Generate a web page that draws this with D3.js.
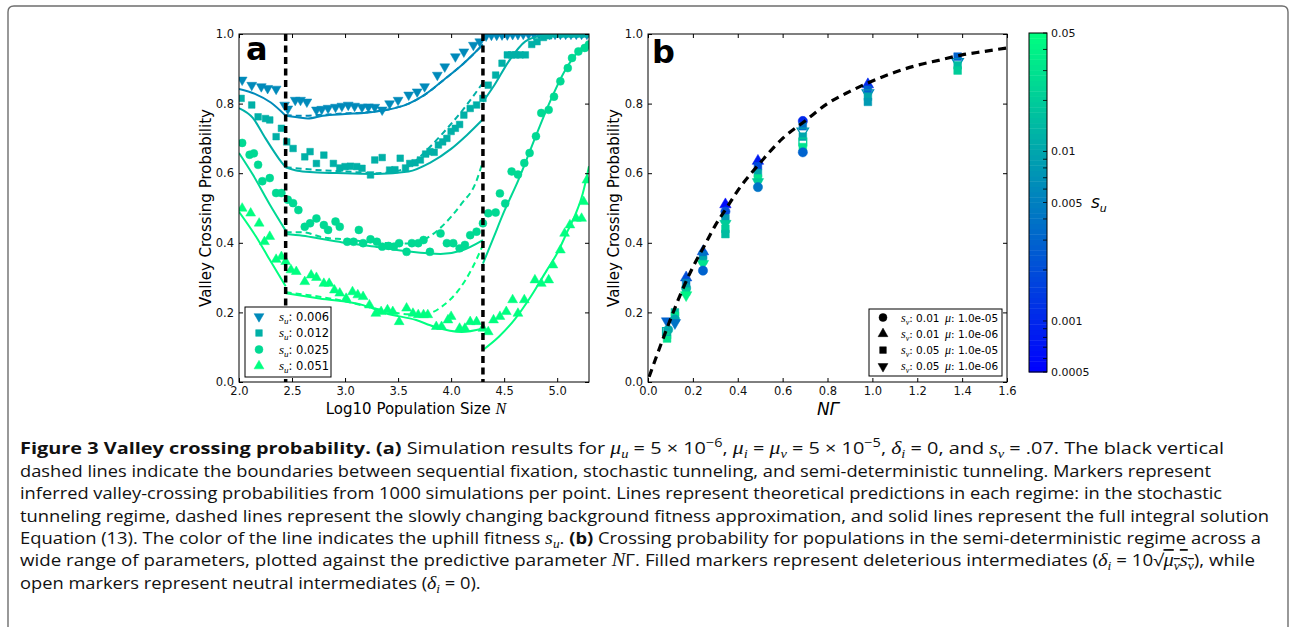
<!DOCTYPE html>
<html>
<head>
<meta charset="utf-8">
<script src="https://cdn.jsdelivr.net/npm/d3@7"></script>
<style>
  body { margin: 0; background: #fff; }
  text { font-family: "DejaVu Sans", sans-serif; }
</style>
</head>
<body>
<svg id="fig" width="1294" height="627"></svg>
<script>
// ---------- panel a data (log10 N, crossing probability) ----------
const suA = [0.006, 0.012, 0.025, 0.051];
const shapeA = [3, 2, 0, 1]; // tri-down, square, circle, tri-up
const regimeBounds = [2.44, 4.30];

const pts006 = [[2.03,0.868],[2.12,0.853],[2.21,0.849],[2.27,0.844],[2.35,0.842],[2.43,0.796],[2.46,0.785],[2.53,0.81],[2.58,0.81],[2.64,0.805],[2.73,0.782],[2.78,0.784],[2.84,0.787],[2.91,0.79],[2.97,0.793],[3.03,0.796],[3.09,0.793],[3.16,0.79],[3.22,0.791],[3.28,0.79],[3.35,0.782],[3.42,0.80],[3.50,0.81],[3.60,0.825],[3.68,0.834],[3.75,0.849],[3.87,0.882],[3.94,0.906],[4.04,0.935],[4.12,0.949],[4.21,0.968],[4.27,0.978],[4.33,0.995],[4.38,0.997],[4.43,0.997],[4.48,0.998],[4.53,0.998],[4.58,0.999],[4.63,0.999],[4.68,1.0],[4.73,1.0],[4.78,1.0],[4.83,1.0],[4.88,1.0],[4.93,1.0],[4.98,1.0],[5.03,1.0],[5.08,1.0],[5.13,1.0],[5.18,1.0],[5.23,1.0],[5.28,1.0]];
const pts012 = [[2.02,0.815],[2.12,0.796],[2.18,0.762],[2.25,0.757],[2.29,0.753],[2.35,0.705],[2.40,0.729],[2.45,0.69],[2.51,0.671],[2.62,0.647],[2.67,0.662],[2.73,0.628],[2.80,0.652],[2.89,0.628],[2.95,0.615],[3.0,0.619],[3.05,0.62],[3.11,0.619],[3.16,0.614],[3.24,0.595],[3.28,0.638],[3.35,0.645],[3.42,0.609],[3.47,0.61],[3.52,0.643],[3.57,0.615],[3.61,0.628],[3.66,0.63],[3.71,0.638],[3.76,0.655],[3.80,0.662],[3.84,0.66],[3.88,0.681],[3.92,0.69],[3.96,0.70],[4.0,0.72],[4.04,0.729],[4.08,0.74],[4.12,0.767],[4.18,0.786],[4.24,0.796],[4.30,0.815],[4.35,0.853],[4.42,0.882],[4.48,0.916],[4.53,0.94],[4.57,0.94],[4.61,0.94],[4.65,0.94],[4.70,0.94],[4.76,0.97],[4.81,0.978],[4.87,0.99],[4.92,0.995],[4.97,1.0],[5.02,1.0],[5.07,1.0],[5.12,1.0],[5.17,1.0],[5.22,1.0],[5.27,1.0]];
const pts025 = [[2.03,0.687],[2.10,0.653],[2.14,0.657],[2.18,0.624],[2.22,0.577],[2.29,0.586],[2.35,0.543],[2.40,0.543],[2.46,0.524],[2.51,0.514],[2.56,0.494],[2.62,0.446],[2.67,0.456],[2.73,0.47],[2.80,0.451],[2.84,0.437],[2.91,0.461],[2.95,0.446],[3.02,0.403],[3.08,0.403],[3.13,0.437],[3.17,0.399],[3.24,0.41],[3.30,0.403],[3.35,0.389],[3.41,0.391],[3.46,0.389],[3.51,0.399],[3.58,0.374],[3.63,0.399],[3.69,0.399],[3.74,0.408],[3.80,0.374],[3.90,0.427],[3.96,0.399],[4.02,0.399],[4.08,0.384],[4.13,0.394],[4.18,0.422],[4.24,0.432],[4.30,0.456],[4.35,0.485],[4.42,0.487],[4.46,0.542],[4.51,0.513],[4.57,0.605],[4.63,0.596],[4.69,0.629],[4.74,0.658],[4.80,0.706],[4.85,0.773],[4.92,0.782],[4.97,0.82],[5.03,0.864],[5.10,0.902],[5.14,0.931],[5.20,0.95],[5.26,0.96],[5.30,0.97]];
const pts051 = [[2.03,0.499],[2.11,0.485],[2.19,0.456],[2.24,0.403],[2.29,0.418],[2.35,0.352],[2.40,0.36],[2.44,0.346],[2.49,0.322],[2.54,0.317],[2.62,0.288],[2.68,0.307],[2.73,0.30],[2.80,0.283],[2.85,0.283],[2.90,0.264],[2.95,0.255],[3.01,0.24],[3.07,0.259],[3.12,0.25],[3.17,0.245],[3.23,0.221],[3.29,0.197],[3.34,0.202],[3.40,0.207],[3.45,0.202],[3.51,0.173],[3.58,0.212],[3.64,0.197],[3.69,0.193],[3.74,0.193],[3.78,0.193],[3.86,0.159],[3.91,0.159],[3.97,0.178],[4.0,0.188],[4.08,0.154],[4.13,0.154],[4.18,0.173],[4.24,0.173],[4.30,0.154],[4.35,0.144],[4.40,0.178],[4.46,0.188],[4.52,0.202],[4.58,0.236],[4.63,0.197],[4.69,0.236],[4.79,0.293],[4.85,0.283],[4.92,0.293],[4.96,0.336],[5.03,0.379],[5.07,0.427],[5.12,0.451],[5.18,0.47],[5.23,0.47],[5.25,0.518],[5.28,0.58]];
const pointsA = [pts006, pts012, pts025, pts051];

// sequential-fixation regime (solid)
const seqA = [
  [[2.0,0.842],[2.15,0.828],[2.3,0.803],[2.44,0.765]],
  [[2.0,0.787],[2.13,0.759],[2.25,0.70],[2.38,0.64],[2.44,0.617]],
  [[2.0,0.658],[2.13,0.596],[2.29,0.51],[2.44,0.435]],
  [[2.0,0.489],[2.16,0.418],[2.29,0.351],[2.44,0.275]]
];
// stochastic tunneling, full integral (solid)
const intA = [
  [[2.44,0.765],[2.55,0.761],[2.65,0.757],[2.79,0.765],[3.0,0.77],[3.2,0.774],[3.4,0.782],[3.6,0.80],[3.75,0.825],[3.93,0.868],[4.12,0.916],[4.3,0.97]],
  [[2.44,0.617],[2.55,0.607],[2.7,0.603],[3.0,0.60],[3.3,0.598],[3.6,0.605],[3.8,0.63],[4.0,0.67],[4.15,0.71],[4.3,0.755]],
  [[2.44,0.425],[2.6,0.42],[2.8,0.41],[3.0,0.40],[3.3,0.388],[3.6,0.375],[3.9,0.368],[4.1,0.378],[4.3,0.408]],
  [[2.44,0.255],[2.76,0.24],[3.17,0.221],[3.39,0.197],[3.67,0.178],[3.84,0.159],[4.1,0.144],[4.3,0.154]]
];
// stochastic tunneling, slowly changing background approximation (dashed)
const apxA = [
  [[2.44,0.767],[2.6,0.765],[2.8,0.768],[3.0,0.772],[3.2,0.775],[3.4,0.783],[3.6,0.80],[3.75,0.825],[3.93,0.868],[4.12,0.916],[4.3,0.97]],
  [[2.44,0.617],[2.7,0.61],[3.0,0.605],[3.3,0.60],[3.5,0.607],[3.6,0.62],[3.75,0.66],[3.91,0.711],[4.1,0.778],[4.3,0.86]],
  [[2.44,0.43],[2.6,0.43],[2.8,0.415],[3.0,0.41],[3.3,0.40],[3.6,0.398],[3.75,0.41],[3.91,0.446],[4.1,0.513],[4.23,0.571],[4.3,0.635]],
  [[2.44,0.258],[2.76,0.245],[3.0,0.232],[3.3,0.21],[3.6,0.195],[3.78,0.197],[3.91,0.216],[4.07,0.264],[4.19,0.322],[4.3,0.394]]
];
// semi-deterministic regime (solid)
const semiA = [
  [[4.3,0.997],[4.5,0.999],[5.3,0.999]],
  [[4.3,0.805],[4.41,0.854],[4.54,0.92],[4.7,0.979],[4.85,0.995],[5.0,0.999],[5.3,0.999]],
  [[4.3,0.34],[4.4,0.415],[4.5,0.49],[4.63,0.577],[4.79,0.70],[4.92,0.797],[5.07,0.893],[5.23,0.96],[5.3,0.975]],
  [[4.3,0.092],[4.45,0.13],[4.6,0.18],[4.75,0.245],[4.9,0.32],[5.0,0.37],[5.1,0.435],[5.17,0.48],[5.24,0.54],[5.3,0.62]]
];
const xTicksA = [2.0, 2.5, 3.0, 3.5, 4.0, 4.5, 5.0];
const yTicks = [0.0, 0.2, 0.4, 0.6, 0.8, 1.0];

// ---------- panel b data (N Gamma, probability, shape, s_u, filled) ----------
const pointsB = [
  [0.085,0.175,3,0.003,1],[0.09,0.15,0,0.01,1],[0.085,0.135,2,0.02,1],[0.085,0.125,2,0.03,1],[0.082,0.145,2,0.012,0],
  [0.12,0.20,2,0.015,1],[0.12,0.19,2,0.03,1],[0.12,0.18,0,0.01,1],[0.12,0.17,3,0.004,1],
  [0.17,0.30,1,0.002,1],[0.17,0.285,2,0.005,1],[0.17,0.27,0,0.01,1],[0.17,0.26,2,0.02,1],[0.17,0.25,3,0.04,1],
  [0.245,0.375,1,0.002,1],[0.245,0.365,2,0.004,1],[0.245,0.35,2,0.01,1],[0.245,0.34,3,0.03,1],[0.245,0.32,0,0.003,1],
  [0.345,0.51,1,0.0006,1],[0.345,0.49,0,0.002,1],[0.345,0.47,2,0.008,1],[0.345,0.455,3,0.02,1],[0.345,0.44,2,0.02,1],[0.345,0.425,2,0.015,1],
  [0.49,0.635,1,0.0008,1],[0.49,0.62,2,0.002,1],[0.49,0.60,2,0.01,1],[0.49,0.585,2,0.03,1],[0.49,0.575,3,0.02,1],[0.49,0.56,0,0.004,1],
  [0.69,0.75,0,0.001,1],[0.69,0.735,2,0.004,1],[0.69,0.72,3,0.008,0],[0.69,0.705,2,0.01,1],[0.69,0.69,2,0.02,0],[0.69,0.675,2,0.03,1],[0.69,0.66,0,0.003,1],
  [0.98,0.855,1,0.001,1],[0.98,0.84,2,0.003,1],[0.98,0.83,3,0.006,0],[0.98,0.82,2,0.01,1],[0.98,0.805,2,0.008,1],
  [1.38,0.935,2,0.003,1],[1.38,0.92,3,0.006,0],[1.38,0.91,2,0.015,1],[1.38,0.895,2,0.02,1]
];
const curveNG = [0.005,0.05,0.1,0.15,0.2,0.25,0.3,0.35,0.4,0.5,0.6,0.7,0.8,0.9,1.0,1.1,1.2,1.3,1.4,1.5,1.6];
const curveP  = [0.015,0.095,0.18,0.26,0.33,0.39,0.45,0.50,0.55,0.63,0.70,0.75,0.80,0.835,0.865,0.89,0.91,0.925,0.94,0.95,0.96];
const xTicksB = [0.0, 0.2, 0.4, 0.6, 0.8, 1.0, 1.2, 1.4, 1.6];
const legendB = [["0.01","1.0e-05"],["0.01","1.0e-06"],["0.05","1.0e-05"],["0.05","1.0e-06"]];
const shapeB = [0, 1, 2, 3];

// colour bar
const cbDomain = [0.0005, 0.05];
const cbLabels = [0.05, 0.01, 0.005, 0.001, 0.0005];

// ---------- set up ----------
const svg = d3.select('#fig');
svg.append('rect').attr('width', 1294).attr('height', 627).attr('fill', '#fff');

// outer frame of the figure page
svg.append('path')
  .attr('d', 'M8,640 V12 Q8,6 14,6 H1282 Q1288,6 1288,12 V640')
  .attr('fill', 'none').attr('stroke', '#6e6e6e').attr('stroke-width', 1.4);

// winter colormap, log normalised
const color = d3.scaleLog().domain(cbDomain).range(['#0000ff', '#00ff80']).clamp(true);

function symbolPaths(scale) {
  return [
    d3.symbol().type(d3.symbolCircle).size(50 * scale)(),
    d3.symbol().type(d3.symbolTriangle).size(42 * scale)(),
    d3.symbol().type(d3.symbolSquare).size(44 * scale)(),
    d3.symbol().type(d3.symbolTriangle).size(42 * scale)()
  ];
}
const symA = symbolPaths(1), symB = symbolPaths(1.35);
function drawMarker(g, sym, x, y, k, col, filled) {
  g.append('path')
    .attr('d', sym[k])
    .attr('transform', `translate(${x},${y})` + (k === 3 ? ' rotate(180)' : ''))
    .attr('fill', filled ? col : 'none')
    .attr('stroke', col)
    .attr('stroke-width', filled ? 0.5 : 1.3);
}

function drawFrame(g, x, y, xt, id) {
  const [x0, x1] = x.range(), [y0, y1] = y.range();
  const fmt = d3.format('.1f');
  g.append('g').attr('transform', `translate(0,${y0})`)
    .call(d3.axisBottom(x).tickValues(xt).tickFormat(fmt).tickSizeInner(-4).tickSizeOuter(0).tickPadding(5));
  g.append('g').attr('transform', `translate(0,${y1})`)
    .call(d3.axisTop(x).tickValues(xt).tickFormat('').tickSizeInner(-4).tickSizeOuter(0));
  g.append('g').attr('transform', `translate(${x0},0)`)
    .call(d3.axisLeft(y).tickValues(yTicks).tickFormat(fmt).tickSizeInner(-4).tickSizeOuter(0).tickPadding(5));
  g.append('g').attr('transform', `translate(${x1},0)`)
    .call(d3.axisRight(y).tickValues(yTicks).tickFormat('').tickSizeInner(-4).tickSizeOuter(0));
  g.selectAll('.domain').remove();
  g.selectAll('.tick text').attr('font-size', 11.5).attr('font-family', 'DejaVu Sans').attr('fill', '#111');
  g.append('rect').attr('x', x0).attr('y', y1).attr('width', x1 - x0).attr('height', y0 - y1)
    .attr('fill', 'none').attr('stroke', '#000').attr('stroke-width', 1);
  svg.append('clipPath').attr('id', id).append('rect')
    .attr('x', x0).attr('y', y1).attr('width', x1 - x0).attr('height', y0 - y1);
}

// ---------- panel a ----------
const xA = d3.scaleLinear().domain([2, 5.3]).range([239, 589]);
const yA = d3.scaleLinear().domain([0, 1]).range([382, 34]);
const gA = svg.append('g');
const plotA = gA.append('g').attr('clip-path', 'url(#clipA)');
const lineA = d3.line().x(d => xA(d[0])).y(d => yA(d[1])).curve(d3.curveMonotoneX);

pointsA.forEach((pts, i) => {
  const c = color(suA[i]);
  pts.forEach(p => drawMarker(plotA, symA, xA(p[0]), yA(p[1]), shapeA[i], c, true));
});
[0, 1, 2, 3].forEach(i => {
  const c = color(suA[i]);
  [seqA[i], intA[i], semiA[i]].forEach(seg => {
    plotA.append('path').attr('d', lineA(seg)).attr('fill', 'none').attr('stroke', c).attr('stroke-width', 2);
  });
  plotA.append('path').attr('d', lineA(apxA[i])).attr('fill', 'none').attr('stroke', c)
    .attr('stroke-width', 2).attr('stroke-dasharray', '6,4');
});
regimeBounds.forEach(b => {
  plotA.append('line').attr('x1', xA(b)).attr('x2', xA(b)).attr('y1', yA(1)).attr('y2', yA(0))
    .attr('stroke', '#000').attr('stroke-width', 3.5).attr('stroke-dasharray', '7,4.5');
});
drawFrame(gA, xA, yA, xTicksA, 'clipA');

gA.append('text').attr('x', 246).attr('y', 60).attr('font-family', 'Liberation Sans')
  .attr('font-weight', 'bold').attr('font-size', 32).text('a');

// legend a
const legA = gA.append('g');
legA.append('rect').attr('x', 245).attr('y', 307).attr('width', 86).attr('height', 70)
  .attr('fill', '#fff').attr('stroke', '#000').attr('stroke-width', 1);
suA.forEach((s, i) => {
  const y = 316.5 + i * 16.5;
  drawMarker(legA, symA, 259, y, shapeA[i], color(s), true);
  const t = legA.append('text').attr('x', 279).attr('y', y + 4).attr('font-size', 11.5);
  t.append('tspan').attr('font-family', 'Liberation Serif').attr('font-style', 'italic').attr('font-size', 13).text('s');
  t.append('tspan').attr('font-family', 'Liberation Serif').attr('font-style', 'italic').attr('font-size', 9).attr('dy', 3).text('u');
  t.append('tspan').attr('dy', -3).text(': ' + d3.format('.3f')(s));
});

// axis labels a
gA.append('text').attr('transform', 'translate(211,208) rotate(-90)').attr('text-anchor', 'middle')
  .attr('font-size', 15).text('Valley Crossing Probability');
const xlabA = gA.append('text').attr('x', 416).attr('y', 414).attr('text-anchor', 'middle').attr('font-size', 15);
xlabA.append('tspan').text('Log10 Population Size ');
xlabA.append('tspan').attr('font-family', 'Liberation Serif').attr('font-style', 'italic').attr('font-size', 16).text('N');

// ---------- panel b ----------
const xB = d3.scaleLinear().domain([0, 1.6]).range([648, 1007]);
const yB = d3.scaleLinear().domain([0, 1]).range([382, 34]);
const gB = svg.append('g');
const plotB = gB.append('g').attr('clip-path', 'url(#clipB)');
pointsB.forEach(p => drawMarker(plotB, symB, xB(p[0]), yB(p[1]), p[2], color(p[3]), p[4] === 1));
const curveB = d3.line().x((d, i) => xB(curveNG[i])).y(d => yB(d)).curve(d3.curveMonotoneX);
plotB.append('path').attr('d', curveB(curveP)).attr('fill', 'none').attr('stroke', '#000')
  .attr('stroke-width', 3.2).attr('stroke-dasharray', '8,5.5');
drawFrame(gB, xB, yB, xTicksB, 'clipB');

gB.append('text').attr('x', 652).attr('y', 63).attr('font-family', 'Liberation Sans')
  .attr('font-weight', 'bold').attr('font-size', 32).text('b');

// legend b
const legB = gB.append('g');
legB.append('rect').attr('x', 869).attr('y', 309).attr('width', 133).attr('height', 67)
  .attr('fill', '#fff').attr('stroke', '#000').attr('stroke-width', 1);
legendB.forEach((l, i) => {
  const y = 317.5 + i * 16.3;
  drawMarker(legB, symA, 883, y, shapeB[i], '#000', true);
  const t = legB.append('text').attr('y', y + 4).attr('font-size', 10.5);
  t.append('tspan').attr('x', 901).attr('font-family', 'Liberation Serif').attr('font-style', 'italic').attr('font-size', 12).text('s');
  t.append('tspan').attr('font-family', 'Liberation Serif').attr('font-style', 'italic').attr('font-size', 8).attr('dy', 3).text('v');
  t.append('tspan').attr('dy', -3).text(': ' + l[0]);
  t.append('tspan').attr('x', 945).attr('font-family', 'Liberation Serif').attr('font-style', 'italic').attr('font-size', 12).text('\u03bc');
  t.append('tspan').text(': ' + l[1]);
});

gB.append('text').attr('transform', 'translate(619,208) rotate(-90)').attr('text-anchor', 'middle')
  .attr('font-size', 15).text('Valley Crossing Probability');
gB.append('text').attr('x', 828).attr('y', 415).attr('text-anchor', 'middle')
  .attr('font-family', 'Liberation Serif').attr('font-style', 'italic').attr('font-size', 17).text('N\u0393');

// ---------- colour bar ----------
const cb = d3.scaleLog().domain(cbDomain).range([372, 33]);
const gC = svg.append('g');
const nBands = 64;
const lo = Math.log10(cbDomain[0]), hi = Math.log10(cbDomain[1]);
d3.range(nBands).forEach(i => {
  const v0 = Math.pow(10, lo + i * (hi - lo) / nBands);
  const v1 = Math.pow(10, lo + (i + 1) * (hi - lo) / nBands);
  const vm = Math.pow(10, lo + (i + 0.5) * (hi - lo) / nBands);
  gC.append('rect').attr('x', 1029).attr('width', 18).attr('y', cb(v1)).attr('height', cb(v0) - cb(v1) + 0.4)
    .attr('fill', color(vm));
});
gC.append('rect').attr('x', 1029).attr('y', 33).attr('width', 18).attr('height', 339)
  .attr('fill', 'none').attr('stroke', '#000').attr('stroke-width', 1);
cb.ticks().forEach(v => {
  gC.append('line').attr('x1', 1047).attr('x2', 1043).attr('y1', cb(v)).attr('y2', cb(v))
    .attr('stroke', '#000').attr('stroke-width', 0.8);
});
cbLabels.forEach(v => {
  gC.append('text').attr('x', 1051).attr('y', cb(v) + 4).attr('font-size', 11).attr('fill', '#111').text(String(v));
});
const cbt = gC.append('text').attr('x', 1091).attr('y', 208).attr('font-family', 'Liberation Serif')
  .attr('font-style', 'italic').attr('font-size', 17);
cbt.append('tspan').text('s');
cbt.append('tspan').attr('font-size', 11).attr('dy', 4).text('u');

// ---------- caption ----------
const capLines = [
  [['b','Figure 3 Valley crossing probability. (a)'],['n',' Simulation results for '],['m','\u03bc'],['sub','u'],['n',' = 5 \u00d7 10'],['sup','\u22126'],['n',', '],['m','\u03bc'],['sub','i'],['n',' = '],['m','\u03bc'],['sub','v'],['n',' = 5 \u00d7 10'],['sup','\u22125'],['n',', '],['m','\u03b4'],['sub','i'],['n',' = 0, and '],['m','s'],['sub','v'],['n',' = .07. The black vertical']],
  [['n','dashed lines indicate the boundaries between sequential fixation, stochastic tunneling, and semi-deterministic tunneling. Markers represent']],
  [['n','inferred valley-crossing probabilities from 1000 simulations per point. Lines represent theoretical predictions in each regime: in the stochastic']],
  [['n','tunneling regime, dashed lines represent the slowly changing background fitness approximation, and solid lines represent the full integral solution']],
  [['n','Equation (13). The color of the line indicates the uphill fitness '],['m','s'],['sub','u'],['n','. '],['b','(b)'],['n',' Crossing probability for populations in the semi-deterministic regime across a']],
  [['n','wide range of parameters, plotted against the predictive parameter '],['m','N'],['n','\u0393. Filled markers represent deleterious intermediates ('],['m','\u03b4'],['sub','i'],['n',' = 10\u221a'],['ov','\u03bc'],['ovsub','v'],['ov','s'],['ovsub','v'],['n','), while']],
  [['n','open markers represent neutral intermediates ('],['m','\u03b4'],['sub','i'],['n',' = 0).']]
];
const capY = [454, 477, 499, 522, 544, 566, 589];
const capEnd = [1224, 1211, 1222, 1269, 1261, 1255, null];
const cap = svg.append('g').attr('font-size', 16.5).attr('fill', '#111');
const capTexts = capLines.map((segs, i) => {
  const t = cap.append('text').attr('x', 20).attr('y', capY[i]).style('font-family', '"Open Sans"');
  let shift = 0;
  segs.forEach(([k, s]) => {
    const ts = t.append('tspan').text(s);
    let want = 0;
    if (k === 'b') ts.attr('font-weight', 'bold');
    if (k === 'm' || k === 'ov') ts.style('font-family', '"Liberation Serif"').attr('font-style', 'italic').attr('font-size', 18);
    if (k === 'ov' || k === 'ovsub') ts.style('text-decoration', 'overline');
    if (k === 'sub' || k === 'ovsub') { ts.style('font-family', '"Liberation Serif"').attr('font-style', 'italic').attr('font-size', 12); want = 4; }
    if (k === 'sup') { ts.attr('font-size', 12); want = -7; }
    if (want !== shift) { ts.attr('dy', want - shift); shift = want; }
  });
  return t;
});
// condense each line to the width of the narrow caption face
const natural = capTexts.map(t => t.node().getComputedTextLength());
const squeeze = d3.mean([1, 2, 3], i => (capEnd[i] - 20) / natural[i]);
capTexts.forEach((t, i) => {
  const target = capEnd[i] ? capEnd[i] - 20 : natural[i] * squeeze;
  t.attr('textLength', target).attr('lengthAdjust', 'spacingAndGlyphs');
});
</script>
</body>
</html>
